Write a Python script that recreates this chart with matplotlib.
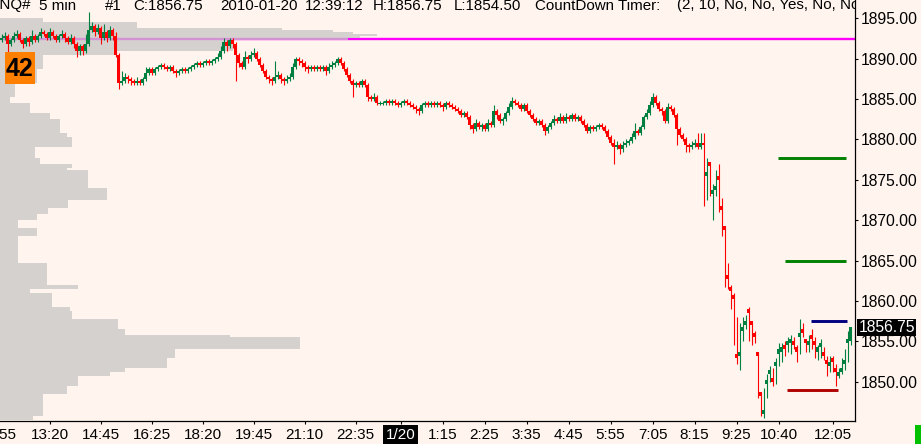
"""
NQ 5-min chart with volume profile, 2010-01-20.
Candles + left-anchored volume profile + a few horizontal levels,
styled like the trading-platform screenshot.
"""
import numpy as np
import matplotlib
matplotlib.use("Agg")
import matplotlib.pyplot as plt
from matplotlib.patches import Rectangle

plt.rcParams["font.family"] = ["Liberation Sans", "DejaVu Sans"]

# ---------------------------------------------------------------------------
# Data: 5-min bars (open = previous close unless listed in open_gaps)
# ---------------------------------------------------------------------------
first_open = 1892.25

closes = [
    1892.50, 1892.75, 1891.75, 1892.25, 1892.75, 1893.00, 1892.25, 1891.75, 1892.50, 1892.00,
    1892.75, 1892.25, 1892.75, 1893.25, 1893.00, 1892.50, 1893.25, 1892.75, 1892.25, 1892.75,
    1893.00, 1892.50, 1892.00, 1892.50, 1891.75, 1891.00, 1891.50, 1891.00, 1891.75, 1893.50,
    1894.00, 1893.25, 1893.75, 1892.50, 1893.25, 1892.50, 1893.50, 1892.75, 1890.50, 1887.00,
    1887.25, 1887.75, 1887.50, 1887.25, 1887.00, 1887.25, 1887.00, 1887.50, 1888.25, 1888.75,
    1888.25, 1888.75, 1889.00, 1889.25, 1889.00, 1888.75, 1889.00, 1888.50, 1888.25, 1888.50,
    1888.75, 1888.50, 1888.75, 1889.00, 1889.25, 1889.50, 1889.25, 1889.50, 1889.75, 1889.50,
    1889.75, 1890.00, 1890.25, 1891.00, 1892.00, 1891.50, 1892.25, 1891.75, 1890.50, 1889.50,
    1889.00, 1890.25, 1890.00, 1890.50, 1890.75, 1890.00, 1889.25, 1888.50, 1887.75, 1887.50,
    1887.25, 1887.75, 1888.00, 1887.50, 1887.25, 1887.50, 1887.75, 1889.00, 1890.00, 1889.75,
    1889.50, 1889.00, 1888.75, 1889.00, 1888.75, 1889.00, 1888.75, 1889.00, 1888.50, 1889.00,
    1889.25, 1889.50, 1890.00, 1889.50, 1888.75, 1888.00, 1887.25, 1886.75, 1887.00, 1886.75,
    1887.25, 1886.75, 1885.25, 1885.00, 1885.25, 1884.50, 1884.50, 1884.50, 1884.75, 1884.50,
    1884.75, 1884.50, 1884.25, 1884.50, 1884.75, 1884.50, 1884.25, 1884.00, 1883.75, 1883.50,
    1884.25, 1884.50, 1884.25, 1884.50, 1884.25, 1884.50, 1884.25, 1884.00, 1884.50, 1884.25,
    1884.00, 1883.75, 1883.50, 1883.00, 1883.25, 1882.75, 1881.75, 1881.25, 1882.00, 1881.50,
    1881.75, 1881.25, 1882.00, 1881.75, 1883.50, 1883.00, 1882.25, 1882.50, 1883.25, 1884.00,
    1884.75, 1884.50, 1884.25, 1883.75, 1884.25, 1883.50, 1883.00, 1882.50, 1882.00, 1882.25,
    1881.75, 1881.00, 1881.50, 1882.00, 1882.50, 1882.25, 1882.75, 1882.25, 1882.75, 1882.50,
    1883.00, 1882.50, 1882.75, 1882.25, 1881.75, 1881.00, 1881.50, 1881.25, 1881.50, 1881.75,
    1881.50, 1881.00, 1880.25, 1879.50, 1879.00, 1879.25, 1878.75, 1879.25, 1879.50, 1879.75,
    1880.25, 1881.00, 1880.75, 1881.50, 1882.75, 1883.25, 1884.25, 1885.25, 1884.50, 1883.75,
    1883.50, 1882.25, 1884.00, 1883.75, 1883.00, 1881.25, 1880.50, 1880.00, 1879.25, 1879.00,
    1879.25, 1879.50, 1879.00, 1879.50, 1879.25, 1876.00, 1876.75, 1873.75, 1874.25, 1875.00,
    1871.25, 1868.75, 1862.75, 1861.25, 1860.25, 1853.00, 1853.75, 1856.75, 1857.50, 1858.50,
    1857.00, 1855.50, 1853.25, 1848.25, 1846.50, 1850.25, 1851.50, 1850.00, 1852.50, 1854.00,
    1854.25, 1854.00, 1855.00, 1855.25, 1854.50, 1853.75, 1856.00, 1856.00, 1854.75, 1855.00,
    1855.25, 1854.50, 1854.25, 1854.75, 1853.25, 1852.25, 1852.50, 1852.50, 1851.25, 1851.25,
    1851.75, 1852.75, 1855.25, 1856.75,
]

highs = [
    1893.00, 1893.25, 1893.00, 1892.50, 1893.25, 1893.50, 1893.25, 1892.50, 1892.75, 1892.75,
    1893.50, 1893.00, 1893.00, 1893.75, 1893.50, 1893.25, 1893.75, 1893.50, 1893.00, 1893.00,
    1893.50, 1893.25, 1892.75, 1893.00, 1892.75, 1892.00, 1891.75, 1891.75, 1893.00, 1895.75,
    1894.50, 1894.25, 1894.25, 1894.00, 1894.25, 1893.50, 1894.00, 1893.75, 1893.25, 1890.75,
    1888.50, 1888.25, 1888.00, 1887.75, 1887.50, 1887.75, 1887.50, 1887.75, 1889.00, 1889.00,
    1889.00, 1889.00, 1889.25, 1889.50, 1889.50, 1889.25, 1889.25, 1889.25, 1888.75, 1888.75,
    1889.00, 1889.00, 1889.00, 1889.25, 1889.50, 1889.75, 1889.75, 1889.75, 1890.00, 1890.00,
    1890.00, 1890.25, 1890.75, 1891.50, 1892.50, 1892.25, 1892.50, 1892.50, 1892.00, 1890.75,
    1889.75, 1891.00, 1890.50, 1891.00, 1891.25, 1891.00, 1890.25, 1889.50, 1888.75, 1888.00,
    1887.75, 1889.75, 1888.50, 1888.25, 1887.75, 1888.00, 1888.25, 1889.50, 1890.25, 1890.25,
    1890.00, 1889.75, 1889.25, 1889.25, 1889.25, 1889.25, 1889.25, 1889.25, 1889.25, 1889.50,
    1889.75, 1889.75, 1890.25, 1890.25, 1889.75, 1889.00, 1888.25, 1887.50, 1887.25, 1887.25,
    1887.50, 1887.50, 1887.00, 1885.50, 1885.75, 1885.50, 1884.75, 1884.75, 1885.00, 1885.00,
    1885.00, 1885.00, 1884.75, 1884.75, 1885.00, 1885.00, 1884.75, 1884.50, 1884.25, 1884.00,
    1884.50, 1884.75, 1884.75, 1884.75, 1884.75, 1884.75, 1884.75, 1884.50, 1884.75, 1884.75,
    1884.50, 1884.25, 1884.00, 1883.75, 1883.50, 1883.50, 1883.00, 1882.00, 1882.50, 1882.25,
    1882.00, 1882.00, 1882.50, 1882.25, 1884.25, 1883.75, 1883.25, 1882.75, 1883.50, 1884.50,
    1885.25, 1885.00, 1884.75, 1884.50, 1884.50, 1884.50, 1883.75, 1883.25, 1882.75, 1882.50,
    1882.50, 1882.00, 1881.75, 1882.25, 1883.00, 1882.75, 1883.25, 1883.00, 1883.25, 1883.00,
    1883.25, 1883.25, 1883.00, 1883.00, 1882.50, 1882.00, 1881.75, 1881.75, 1881.75, 1882.00,
    1882.00, 1881.75, 1881.25, 1880.50, 1880.00, 1879.75, 1879.50, 1879.75, 1880.00, 1880.00,
    1880.75, 1882.00, 1881.25, 1881.75, 1883.00, 1883.75, 1884.75, 1885.75, 1885.50, 1884.75,
    1884.00, 1883.75, 1884.50, 1884.25, 1884.00, 1883.25, 1881.50, 1880.75, 1880.25, 1879.50,
    1879.75, 1880.00, 1880.75, 1880.75, 1880.75, 1877.75, 1877.25, 1874.50, 1876.25, 1877.00,
    1872.75, 1869.25, 1864.75, 1862.00, 1861.00, 1858.00, 1857.25, 1858.00, 1858.25, 1859.25,
    1857.50, 1856.25, 1853.75, 1848.75, 1849.25, 1851.00, 1852.00, 1851.75, 1853.00, 1854.75,
    1854.75, 1855.00, 1855.50, 1855.75, 1855.50, 1854.50, 1857.75, 1857.25, 1855.25, 1855.75,
    1856.50, 1855.50, 1854.50, 1855.25, 1854.25, 1853.25, 1853.25, 1853.25, 1852.25, 1851.75,
    1853.00, 1854.00, 1856.25, 1856.75,
]

lows = [
    1892.00, 1892.25, 1890.75, 1891.50, 1892.00, 1892.50, 1892.00, 1891.25, 1891.50, 1891.50,
    1891.75, 1892.00, 1892.00, 1892.50, 1892.75, 1892.25, 1892.25, 1892.50, 1892.00, 1892.00,
    1892.50, 1892.00, 1891.75, 1891.75, 1891.25, 1890.25, 1890.50, 1890.50, 1890.75, 1891.50,
    1893.25, 1892.75, 1893.00, 1891.75, 1892.25, 1892.00, 1892.25, 1892.25, 1890.25, 1886.25,
    1886.75, 1887.00, 1887.00, 1886.75, 1886.75, 1886.75, 1886.75, 1886.75, 1887.25, 1888.00,
    1888.00, 1888.00, 1888.50, 1888.75, 1888.75, 1888.50, 1888.50, 1888.25, 1887.75, 1888.00,
    1888.25, 1888.25, 1888.25, 1888.50, 1888.75, 1889.00, 1889.00, 1889.00, 1889.25, 1889.25,
    1889.25, 1889.50, 1889.75, 1890.00, 1890.75, 1891.00, 1891.25, 1891.25, 1887.25, 1889.00,
    1888.75, 1888.75, 1889.50, 1889.75, 1890.25, 1889.75, 1889.00, 1888.25, 1887.50, 1887.00,
    1886.75, 1887.00, 1887.50, 1887.00, 1886.75, 1887.00, 1887.25, 1887.50, 1888.75, 1889.25,
    1889.00, 1888.50, 1888.25, 1888.50, 1888.50, 1888.50, 1888.50, 1888.50, 1888.00, 1888.25,
    1888.75, 1889.00, 1889.25, 1889.25, 1888.50, 1887.75, 1887.00, 1885.25, 1886.50, 1886.50,
    1886.50, 1886.50, 1884.75, 1884.75, 1884.75, 1884.25, 1884.25, 1884.25, 1884.25, 1884.25,
    1884.25, 1884.25, 1884.00, 1884.00, 1884.25, 1884.25, 1884.00, 1883.75, 1883.25, 1883.00,
    1883.25, 1884.00, 1884.00, 1884.00, 1884.00, 1884.00, 1884.00, 1883.50, 1883.75, 1884.00,
    1883.75, 1883.50, 1883.25, 1882.75, 1882.75, 1882.50, 1881.25, 1880.75, 1881.00, 1881.25,
    1881.00, 1881.00, 1881.00, 1881.50, 1881.50, 1882.50, 1882.00, 1881.75, 1882.25, 1883.00,
    1883.75, 1884.25, 1884.00, 1883.50, 1883.50, 1883.25, 1882.75, 1882.25, 1881.75, 1881.75,
    1881.50, 1880.50, 1880.75, 1881.25, 1881.75, 1882.00, 1882.00, 1882.00, 1882.00, 1882.25,
    1882.25, 1882.25, 1882.25, 1882.00, 1881.50, 1880.75, 1880.75, 1881.00, 1881.00, 1881.25,
    1881.25, 1880.75, 1880.00, 1879.25, 1877.00, 1878.75, 1878.25, 1878.50, 1879.00, 1879.25,
    1879.50, 1880.00, 1880.50, 1880.50, 1881.25, 1882.50, 1883.00, 1884.00, 1884.25, 1883.50,
    1883.00, 1882.00, 1882.00, 1883.50, 1882.75, 1879.25, 1880.25, 1879.75, 1878.50, 1878.50,
    1878.75, 1879.00, 1878.75, 1878.75, 1871.75, 1872.50, 1873.00, 1870.00, 1873.00, 1871.00,
    1868.00, 1861.75, 1861.50, 1859.00, 1854.50, 1852.25, 1851.50, 1855.00, 1856.50, 1855.00,
    1854.50, 1854.75, 1848.00, 1845.75, 1845.50, 1848.00, 1850.00, 1849.50, 1849.75, 1852.00,
    1852.50, 1853.25, 1853.75, 1853.50, 1854.00, 1852.50, 1853.50, 1855.50, 1853.75, 1853.75,
    1854.00, 1853.00, 1852.75, 1853.00, 1852.75, 1850.75, 1851.25, 1851.25, 1849.50, 1850.50,
    1851.00, 1851.50, 1852.50, 1854.50,
]

# bars whose open does not equal the previous close (fast market)
open_gaps = {
    235: 1875.50, 236: 1877.25, 237: 1873.25, 238: 1873.75, 239: 1875.50,
    240: 1871.75, 241: 1869.25, 242: 1863.25, 243: 1861.75, 244: 1860.75,
    245: 1853.50, 246: 1853.25, 247: 1856.25, 248: 1857.00, 249: 1859.00,
    250: 1857.50, 251: 1856.00, 252: 1853.75, 253: 1848.75, 254: 1846.00,
    255: 1849.75, 256: 1851.00, 257: 1850.50, 258: 1852.00, 259: 1853.50,
    260: 1853.75, 261: 1854.50, 262: 1854.50, 263: 1854.75, 264: 1855.00,
    265: 1854.25, 266: 1855.50, 267: 1856.50, 268: 1855.25, 269: 1854.50,
    270: 1855.75, 271: 1855.00, 272: 1853.75, 273: 1854.25, 274: 1853.75,
    275: 1852.75, 276: 1852.00, 277: 1853.00, 278: 1851.75, 279: 1850.75,
    280: 1851.25, 281: 1852.25, 282: 1854.75, 283: 1855.00,
}

# time axis labels (bar index -> label)
tick_bars = [-1, 16, 33, 50, 67, 84, 101, 118, 133, 147, 161, 175, 189,
             203, 217, 231, 245, 259, 277]
tick_labels = ["11:55", "13:20", "14:45", "16:25", "18:20", "19:45", "21:10",
               "22:35", "1/20", "1:15", "2:25", "3:35", "4:45", "5:55", "7:05",
               "8:15", "9:25", "10:40", "12:05"]
price_ticks = [1850, 1855, 1860, 1865, 1870, 1875, 1880, 1885, 1890, 1895]

# volume profile: price band edges (top -> bottom) and volume per band
profile_edges = [
    1895.00, 1894.50, 1893.75, 1893.50, 1893.25, 1893.00, 1892.75, 1892.50,
    1892.25, 1891.00, 1890.50, 1888.75, 1887.00, 1885.25, 1884.50, 1883.25,
    1882.50, 1880.75, 1880.25, 1879.00, 1877.75, 1877.00, 1876.50, 1876.25,
    1874.00, 1872.50, 1871.50, 1870.75, 1870.00, 1869.00, 1868.00, 1864.75,
    1862.00, 1861.50, 1861.00, 1859.25, 1858.75, 1857.75, 1856.50, 1855.75,
    1855.50, 1854.00, 1853.00, 1851.75, 1851.25, 1850.75, 1849.50, 1848.50,
    1845.75, 1845.25,
]
profile_vol = [
    860, 2740, 5640, 6660, 7060, 7540, 7200, 6960, 4660, 2340,
    860, 740, 300, 200, 600, 1000, 1200, 1340, 1440, 700,
    800, 1440, 1340, 1760, 2140, 1360, 960, 740, 360, 740,
    360, 940, 1560, 600, 1040, 1400, 1440, 2360, 2500, 4600,
    6000, 3500, 3340, 2500, 2200, 1560, 1340, 860, 660,
]

# horizontal levels
pivot_price = 1892.40
level_prices = [1877.75, 1865.00, 1857.50, 1849.00]
level_from = [258.8, 261.2, 269.8, 261.8]
level_to = [281.5, 281.5, 281.8, 278.8]
level_colors = ["#008000", "#008000", "#000080", "#B00000"]

header_fields = ["@NQ#", "5 min", "#1", "C:1856.75", "2010-01-20", "12:39:12",
                 "H:1856.75", "L:1854.50", "CountDown Timer:",
                 "(2, 10, No, No, Yes, No, No, No)"]
header_x = [31, 39, 105, 133, 220, 305, 373, 454, 535, 677]   # px
header_ha = ["right"] + ["left"] * 9

# ---------------------------------------------------------------------------
# Layout
# ---------------------------------------------------------------------------
W, H = 921, 444
AX_W, AX_H = 855, 421
BG = "#FFF5EE"
UP, DOWN = "#008040", "#FF0000"
PROFILE = "#C6C5C5"
VOL_FULL = 17100          # volume matching the full plot width

closes = np.array(closes)
highs = np.array(highs)
lows = np.array(lows)
assert len(closes) == len(highs) == len(lows)
n = len(closes)
idx = np.arange(n)

opens = np.r_[first_open, closes[:-1]]
for i, o in open_gaps.items():
    opens[i] = o

fig = plt.figure(figsize=(W / 100, H / 100), dpi=100, facecolor=BG)
ax = fig.add_axes([0, (H - AX_H) / H, AX_W / W, AX_H / H])
ax.set_facecolor(BG)
ax.set_xlim(-0.5, n + 0.5)
ax.set_ylim(1845.15, 1897.25)

# pivot line (under the profile, so it looks washed out there)
ax.axhline(pivot_price, color="#FF00FF", lw=1.7, zorder=1)

# volume profile
ytr = ax.get_yaxis_transform()
for top, bot, v in zip(profile_edges[:-1], profile_edges[1:], profile_vol):
    ax.add_patch(Rectangle((0, bot), v / VOL_FULL, top - bot, transform=ytr,
                           facecolor=PROFILE, edgecolor="none", alpha=0.75,
                           zorder=2))

# candles
up = closes >= opens
cols = np.where(up, UP, DOWN)
ax.vlines(idx, lows, highs, colors=cols, linewidth=0.8, zorder=3)
body_lo = np.minimum(opens, closes)
body_h = np.abs(closes - opens)
flat = body_h < 0.12
body_lo = np.where(flat, body_lo - 0.06, body_lo)
body_h = np.where(flat, 0.12, body_h)
ax.bar(idx, body_h, bottom=body_lo, width=0.68, color=cols, linewidth=0,
       zorder=3)

# level lines
ax.hlines(level_prices, level_from, level_to, colors=level_colors,
          linewidth=2.1, zorder=4)

# axes styling
for s in ("left", "top"):
    ax.spines[s].set_visible(False)
for s in ("right", "bottom"):
    ax.spines[s].set_color("black")
    ax.spines[s].set_linewidth(0.9)

ax.yaxis.tick_right()
ax.set_yticks(price_ticks)
ax.set_yticklabels([f"{p:.2f}" for p in price_ticks])
ax.tick_params(axis="y", direction="out", length=2.5, width=0.8, pad=1.5,
               labelsize=11.3, colors="black")

ax.set_xticks([b for b in tick_bars if b >= 0])
ax.set_xticklabels([])
ax.tick_params(axis="x", direction="out", length=2.5, width=0.8)

xtr = ax.get_xaxis_transform()
for b, lab in zip(tick_bars, tick_labels):
    if "/" in lab:
        ax.text(b, -17.5 / AX_H, lab, transform=xtr, ha="center",
                va="baseline", fontsize=11, color="white", clip_on=False,
                bbox=dict(boxstyle="square,pad=0.17", facecolor="black",
                          edgecolor="none"))
    else:
        ax.text(b, -17.5 / AX_H, lab, transform=xtr, ha="center",
                va="baseline", fontsize=11, color="black", clip_on=False)

# header line
for x, txt, ha in zip(header_x, header_fields, header_ha):
    ax.text(x / AX_W, 1 - 9.5 / AX_H, txt, transform=ax.transAxes,
            ha=ha, va="baseline", fontsize=10.9, color="black",
            clip_on=True, zorder=6)

# last price tag on the price axis
ax.text(858.5 / AX_W, closes[-1], f"{closes[-1]:.2f}", transform=ytr,
        ha="left", va="center", fontsize=11.3, color="white", clip_on=False,
        zorder=10,
        bbox=dict(boxstyle="square,pad=0.08", facecolor="black",
                  edgecolor="none"))

# countdown box
fig.add_artist(Rectangle((5 / W, 1 - 84 / H), 30 / W, 32 / H,
                         transform=fig.transFigure, facecolor="#FF8000",
                         edgecolor="none"))
fig.text(20 / W, 1 - 68.5 / H, "42", ha="center", va="center", fontsize=18,
         fontweight="bold", color="black")

# status marker, bottom right
fig.add_artist(Rectangle((915 / W, 0), 6 / W, 19 / H,
                         transform=fig.transFigure, facecolor="#00C000",
                         edgecolor="none"))

fig.savefig("out.png", dpi=100, facecolor=BG)
